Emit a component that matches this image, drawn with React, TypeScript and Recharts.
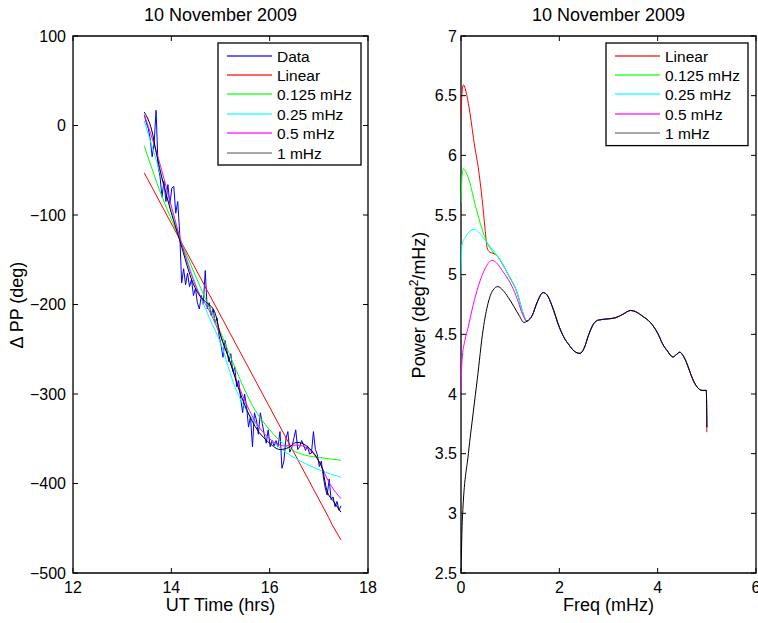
import React from "react";
import { LineChart, Line, XAxis, YAxis, ReferenceArea } from "recharts";

const FONT = "'Liberation Sans', Arial, Helvetica, sans-serif";

// ---- left panel: delta PP (deg) vs UT time (hrs) ----
const dataStartHr = 13.45;
const dataStepHr = 0.04;
const dataPP = [
  12, 3, -3, -15, -35, -20, 17, -45, -57, -80,
  -62, -85, -66, -88, -70, -68, -98, -85, -120, -176,
  -160, -178, -165, -180, -172, -190, -182, -198, -205, -190,
  -200, -162, -205, -198, -212, -205, -220, -215, -235, -245,
  -259, -240, -251, -264, -255, -275, -270, -292, -285, -305,
  -321, -300, -314, -337, -325, -359, -321, -329, -345, -321,
  -333, -345, -355, -340, -359, -352, -358, -352, -359, -342,
  -383, -375, -350, -342, -365, -360, -350, -340, -362, -359,
  -352, -357, -363, -358, -367, -366, -342, -362, -368, -381,
  -375, -392, -405, -413, -395, -418, -415, -426, -420, -430,
  -425,
];
const dataHr = dataPP.map((_, i) => +(dataStartHr + i * dataStepHr).toFixed(2));

const linearHr = [13.45, 17.2, 17.27, 17.45];
const linearPP = [-53, -438, -446, -463];

const fit0125Hr = [13.45, 13.8, 14.2, 14.6, 15.0, 15.33, 15.66, 16.0, 16.35, 16.7, 17.02, 17.45];
const fit0125PP = [-23, -78, -130, -182, -231, -275, -314, -340, -359, -368, -371, -374];

const fit025Hr = [13.45, 13.7, 14.0, 14.2, 14.5, 14.75, 15.0, 15.3, 15.66, 16.0, 16.35, 16.7, 17.02, 17.45];
const fit025PP = [5, -40, -95, -130, -178, -212, -243, -293, -329, -350, -366, -377, -385, -393];

const fit05Hr = [13.45, 13.7, 14.0, 14.2, 14.5, 14.8, 15.0, 15.4, 15.7, 16.0, 16.3, 16.55, 16.8, 17.0, 17.2, 17.45];
const fit05PP = [12, -30, -90, -130, -180, -210, -235, -295, -330, -350, -358, -357, -362, -375, -398, -417];

const fit1Hr = [13.45, 13.6, 13.71, 13.91, 14.18, 14.44, 14.6, 14.72, 14.88, 14.99, 15.2, 15.4, 15.66, 16.0, 16.21, 16.38, 16.55, 16.75, 16.88, 17.0, 17.08, 17.16, 17.3, 17.45];
const fit1PP = [15, -5, -35, -80, -130, -176, -192, -198, -208, -232, -265, -299, -332, -355, -362, -360, -354, -358, -365, -375, -385, -407, -420, -432];

const ppTicks = [-500, -400, -300, -200, -100, 0, 100];
const hrTicks = [12, 14, 16, 18];

// ---- right panel: power (deg^2/mHz) vs freq (mHz) ----
const redHeadF = [0, 0.02, 0.05, 0.12, 0.18, 0.28, 0.35, 0.43, 0.49, 0.53, 0.58, 0.65];
const redHeadP = [6.3, 6.52, 6.59, 6.5, 6.36, 6.07, 5.9, 5.63, 5.38, 5.23, 5.19, 5.18];

const greenHeadF = [0, 0.02, 0.05, 0.1, 0.18, 0.28, 0.43, 0.53, 0.63, 0.7];
const greenHeadP = [5.6, 5.82, 5.89, 5.86, 5.77, 5.6, 5.38, 5.27, 5.2, 5.17];

const cyanHeadF = [0, 0.02, 0.1, 0.2, 0.28, 0.35, 0.49, 0.6, 0.7];
const cyanHeadP = [4.98, 5.25, 5.32, 5.37, 5.38, 5.36, 5.29, 5.23, 5.18];

// shared by red, green and cyan before the common tail
const midF = [0.75, 0.83, 0.96, 1.14, 1.26];
const midP = [5.15, 5.1, 5.0, 4.85, 4.68];

const magentaHeadF = [0, 0.02, 0.08, 0.14, 0.25, 0.35, 0.5, 0.63, 0.72, 0.83, 0.96, 1.04, 1.14, 1.26];
const magentaHeadP = [4.0, 4.28, 4.45, 4.55, 4.75, 4.9, 5.06, 5.12, 5.1, 5.04, 4.96, 4.9, 4.8, 4.66];

const blackHeadF = [0, 0.03, 0.15, 0.25, 0.33, 0.45, 0.55, 0.65, 0.75, 0.85, 0.96, 1.08, 1.18, 1.28];
const blackHeadP = [2.5, 2.97, 3.5, 3.85, 4.12, 4.54, 4.76, 4.87, 4.9, 4.87, 4.81, 4.73, 4.66, 4.6];

const tailF = [
  1.34, 1.45, 1.55, 1.67, 1.75, 1.85, 2.0, 2.1, 2.2, 2.3, 2.42, 2.5, 2.6, 2.7, 2.8, 3.0, 3.15,
  3.3, 3.45, 3.55, 3.7, 3.85, 4.0, 4.1, 4.2, 4.31, 4.38, 4.45, 4.52, 4.6, 4.66, 4.74, 4.82, 4.9, 4.99,
];
const tailP = [
  4.61, 4.66, 4.77, 4.85, 4.83, 4.74, 4.56, 4.47, 4.41, 4.36, 4.34, 4.38, 4.5, 4.59, 4.62, 4.63, 4.64,
  4.67, 4.7, 4.69, 4.65, 4.6, 4.51, 4.42, 4.36, 4.31, 4.33, 4.35, 4.32, 4.25, 4.18, 4.1, 4.05, 4.03, 4.03,
];
const endF = 5.0;
const endRedP = 3.68;
const endP = 3.72;

const powerTicks = [2.5, 3, 3.5, 4, 4.5, 5, 5.5, 6, 6.5, 7];
const freqTicks = [0, 2, 4, 6];

// ---- layout ----
const CHART_H = 623;
const PLOT_TOP = 36;
const PLOT_BOTTOM = 573;
const XAXIS_H = 30;
const AXIS_W = 73;
const TICK_LEN = 5;

type Pt = { x: number; y: number };
type Series = {
  key: string;
  name: string;
  color: string;
  legendColor?: string;
  curve: "linear" | "monotone";
  points: Pt[];
};

const toPoints = (xs: number[], ys: number[]): Pt[] => xs.map((x, i) => ({ x, y: ys[i] }));

const leftSeries: Series[] = [
  { key: "data", name: "Data", color: "#0000ff", curve: "linear", points: toPoints(dataHr, dataPP) },
  { key: "lin", name: "Linear", color: "#ff0000", curve: "linear", points: toPoints(linearHr, linearPP) },
  { key: "f0125", name: "0.125 mHz", color: "#00ff00", curve: "monotone", points: toPoints(fit0125Hr, fit0125PP) },
  { key: "f025", name: "0.25 mHz", color: "#00ffff", curve: "monotone", points: toPoints(fit025Hr, fit025PP) },
  { key: "f05", name: "0.5 mHz", color: "#ff00ff", curve: "monotone", points: toPoints(fit05Hr, fit05PP) },
  { key: "f1", name: "1 mHz", color: "#000000", legendColor: "#707070", curve: "monotone", points: toPoints(fit1Hr, fit1PP) },
];

const rightSeries: Series[] = [
  {
    key: "lin", name: "Linear", color: "#ff0000", curve: "monotone",
    points: toPoints([...redHeadF, ...midF, ...tailF, endF], [...redHeadP, ...midP, ...tailP, endRedP]),
  },
  {
    key: "f0125", name: "0.125 mHz", color: "#00ff00", curve: "monotone",
    points: toPoints([...greenHeadF, ...midF, ...tailF, endF], [...greenHeadP, ...midP, ...tailP, endP]),
  },
  {
    key: "f025", name: "0.25 mHz", color: "#00ffff", curve: "monotone",
    points: toPoints([...cyanHeadF, ...midF, ...tailF, endF], [...cyanHeadP, ...midP, ...tailP, endP]),
  },
  {
    key: "f05", name: "0.5 mHz", color: "#ff00ff", curve: "monotone",
    points: toPoints([...magentaHeadF, ...tailF, endF], [...magentaHeadP, ...tailP, endP]),
  },
  {
    key: "f1", name: "1 mHz", color: "#000000", legendColor: "#707070", curve: "monotone",
    points: toPoints([...blackHeadF, ...tailF, endF], [...blackHeadP, ...tailP, endP]),
  },
];

const fmt = (v: number) => String(v).replace("-", "\u2212");

function XTick(props: any) {
  const { x, payload } = props;
  return (
    <g>
      <line x1={x} x2={x} y1={PLOT_BOTTOM} y2={PLOT_BOTTOM - TICK_LEN} stroke="#000" />
      <line x1={x} x2={x} y1={PLOT_TOP} y2={PLOT_TOP + TICK_LEN} stroke="#000" />
      <text x={x} y={PLOT_BOTTOM + 20} textAnchor="middle" fontSize={16} fontFamily={FONT} fill="#000">
        {fmt(payload.value)}
      </text>
    </g>
  );
}

function YTick(props: any) {
  const { y, payload, plotLeft, plotRight, gap } = props;
  return (
    <g>
      <line x1={plotLeft} x2={plotLeft + TICK_LEN} y1={y} y2={y} stroke="#000" />
      <line x1={plotRight - TICK_LEN} x2={plotRight} y1={y} y2={y} stroke="#000" />
      <text x={plotLeft - gap} y={y + 5.5} textAnchor="end" fontSize={16} fontFamily={FONT} fill="#000">
        {fmt(payload.value)}
      </text>
    </g>
  );
}

interface PanelProps {
  left: number;
  width: number;
  marginRight: number;
  xDomain: [number, number];
  xTicks: number[];
  yDomain: [number, number];
  yTicks: number[];
  labelGap: number;
  series: Series[];
}

function Panel({ left, width, marginRight, xDomain, xTicks, yDomain, yTicks, labelGap, series }: PanelProps) {
  const plotRight = width - marginRight;
  return (
    <div style={{ position: "absolute", left, top: 0 }}>
      <LineChart
        width={width}
        height={CHART_H}
        margin={{ top: PLOT_TOP, right: marginRight, bottom: CHART_H - PLOT_BOTTOM - XAXIS_H, left: 0 }}
      >
        <XAxis
          dataKey="x"
          type="number"
          domain={xDomain}
          ticks={xTicks}
          interval={0}
          allowDataOverflow
          height={XAXIS_H}
          axisLine={false}
          tickLine={false}
          tick={(p: any) => <XTick {...p} />}
        />
        <YAxis
          type="number"
          domain={yDomain}
          ticks={yTicks}
          interval={0}
          allowDataOverflow
          width={AXIS_W}
          axisLine={false}
          tickLine={false}
          tick={(p: any) => <YTick {...p} plotLeft={AXIS_W} plotRight={plotRight} gap={labelGap} />}
        />
        {series.map((s) => (
          <Line
            key={s.key}
            data={s.points}
            dataKey="y"
            type={s.curve}
            stroke={s.color}
            strokeWidth={1}
            dot={false}
            activeDot={false}
            isAnimationActive={false}
          />
        ))}
        <ReferenceArea
          x1={xDomain[0]}
          x2={xDomain[1]}
          y1={yDomain[0]}
          y2={yDomain[1]}
          fill="none"
          fillOpacity={0}
          stroke="#000"
          strokeWidth={1.3}
        />
      </LineChart>
    </div>
  );
}

function LegendBox({ x, y, width, series }: { x: number; y: number; width: number; series: Series[] }) {
  const rowH = 19.4;
  const pad = 12.5;
  const h = pad * 2 + (series.length - 1) * rowH;
  return (
    <g>
      <rect x={x} y={y} width={width} height={h} fill="#fff" stroke="#000" strokeWidth={1.3} />
      {series.map((s, i) => {
        const cy = Math.round(y + pad + i * rowH);
        const sample = s.legendColor || s.color;
        return (
          <g key={s.key}>
            <rect x={x + 9} y={cy - 0.6} width={45} height={1.2} fill={sample} />
            <text x={x + 59} y={cy + 5.5} fontSize={15.5} fill="#000">
              {s.name}
            </text>
          </g>
        );
      })}
    </g>
  );
}

export default function App() {
  return (
    <div style={{ position: "absolute", left: 0, top: 0, width: 758, height: 623, background: "#fff", fontFamily: FONT }}>
      <Panel
        left={0}
        width={380}
        marginRight={12}
        xDomain={[12, 18]}
        xTicks={hrTicks}
        yDomain={[-500, 100]}
        yTicks={ppTicks}
        labelGap={7}
        series={leftSeries}
      />
      <Panel
        left={388}
        width={370}
        marginRight={2}
        xDomain={[0, 6]}
        xTicks={freqTicks}
        yDomain={[2.5, 7]}
        yTicks={powerTicks}
        labelGap={4}
        series={rightSeries}
      />
      <svg
        width={758}
        height={623}
        style={{ position: "absolute", left: 0, top: 0, pointerEvents: "none", fontFamily: FONT }}
      >
        <text x={220.5} y={21} fontSize={18} textAnchor="middle">10 November 2009</text>
        <text x={608.5} y={21} fontSize={18} textAnchor="middle">10 November 2009</text>
        <text x={220.5} y={611} fontSize={18} textAnchor="middle">UT Time (hrs)</text>
        <text x={608.5} y={611} fontSize={18} textAnchor="middle">Freq (mHz)</text>
        <text x={23} y={305} fontSize={18} textAnchor="middle" transform="rotate(-90 23 305)">
          {"\u0394 PP (deg)"}
        </text>
        <text x={425} y={305} fontSize={18} textAnchor="middle" transform="rotate(-90 425 305)">
          <tspan>Power (deg</tspan>
          <tspan fontSize={12} dy={-7}>2</tspan>
          <tspan dy={7}>/mHz)</tspan>
        </text>
        <LegendBox x={218} y={43} width={143} series={leftSeries} />
        <LegendBox x={606} y={43} width={142} series={rightSeries} />
      </svg>
    </div>
  );
}
